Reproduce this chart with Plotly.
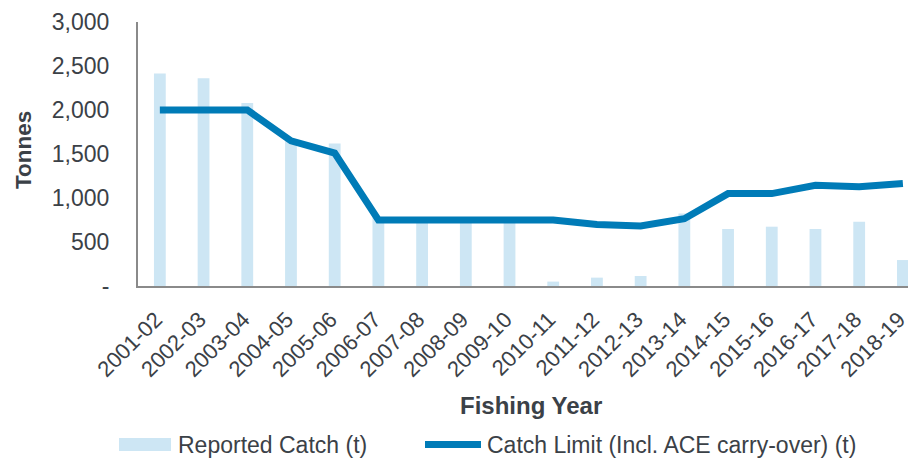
import plotly.graph_objects as go

years = ["2001-02", "2002-03", "2003-04", "2004-05", "2005-06", "2006-07", "2007-08",
         "2008-09", "2009-10", "2010-11", "2011-12", "2012-13", "2013-14", "2014-15",
         "2015-16", "2016-17", "2017-18", "2018-19"]
reported_catch = [2415, 2360, 2080, 1650, 1620, 780, 760, 750, 750, 50, 95, 114, 825,
                  648, 674, 648, 731, 295]
catch_limit = [2000, 2000, 2000, 1650, 1510, 750, 750, 750, 750, 750, 700, 682, 765,
               1050, 1050, 1145, 1128, 1165]
y_ticks = [0, 500, 1000, 1500, 2000, 2500, 3000]
y_tick_text = ["-", "500", "1,000", "1,500", "2,000", "2,500", "3,000"]
bar_name = "Reported Catch (t)"
line_name = "Catch Limit (Incl. ACE carry-over) (t)"

TEXT = "#3b4147"
FONT = "Liberation Sans, Arial, sans-serif"
BAR_C = "#cde6f4"
LINE_C = "#007bb7"

# the page body adds an 8px offset; work in screen pixels and subtract it
OFF = 8
SCREEN_W, SCREEN_H = 916, 459
W, H = SCREEN_W - OFF, SCREEN_H - OFF
PLOT_L, PLOT_R, PLOT_T, PLOT_B = 138, 916, 22, 286  # screen pixels
L, T = PLOT_L - OFF, PLOT_T - OFF
R, B = SCREEN_W - PLOT_R, SCREEN_H - PLOT_B
PW, PH = PLOT_R - PLOT_L, PLOT_B - PLOT_T


def px(x):
    return (x - PLOT_L) / PW


def py(y):
    return (PLOT_B - y) / PH


fig = go.Figure()
fig.add_trace(go.Bar(x=years, y=reported_catch, name=bar_name, showlegend=False,
                     marker=dict(color=BAR_C, line=dict(width=0)), width=0.27))
fig.add_trace(go.Scatter(x=years, y=catch_limit, name=line_name, showlegend=False,
                         mode="lines", line=dict(color=LINE_C, width=7)))

# manual legend (wide swatches as in the reference)
fig.add_shape(type="rect", xref="paper", yref="paper",
              x0=px(119), x1=px(171), y0=py(451), y1=py(438),
              fillcolor=BAR_C, line=dict(width=0))
fig.add_shape(type="line", xref="paper", yref="paper",
              x0=px(425), x1=px(481), y0=py(444.5), y1=py(444.5),
              line=dict(color=LINE_C, width=7))
fig.add_annotation(xref="paper", yref="paper", x=px(176), y=py(445), xanchor="left",
                   yanchor="middle", text=bar_name, showarrow=False,
                   font=dict(size=23, color=TEXT, family=FONT))
fig.add_annotation(xref="paper", yref="paper", x=px(485), y=py(445), xanchor="left",
                   yanchor="middle", text=line_name, showarrow=False,
                   font=dict(size=23, color=TEXT, family=FONT))
# axis titles
fig.add_annotation(xref="paper", yref="paper", x=px(531), y=py(405), xanchor="center",
                   yanchor="middle", text="<b>Fishing Year</b>", showarrow=False,
                   font=dict(size=24, color=TEXT, family=FONT))
fig.add_annotation(xref="paper", yref="paper", x=px(23), y=py(150), xanchor="center",
                   yanchor="middle", text="<b>Tonnes</b>", showarrow=False, textangle=-90,
                   font=dict(size=22.5, color=TEXT, family=FONT))

fig.update_layout(
    width=W, height=H,
    margin=dict(l=L, r=R, t=T, b=B, pad=0),
    paper_bgcolor="white", plot_bgcolor="white",
    font=dict(family=FONT, color=TEXT, size=22),
    showlegend=False,
    xaxis=dict(type="category", range=[-0.5, 17.3], tickangle=-45, automargin=False,
               showline=True, linecolor="#8a8a8a", linewidth=2, ticks="",
               showgrid=False, tickfont=dict(size=22, color=TEXT),
               ticklabelstandoff=10, ticklabelshift=-4),
    yaxis=dict(range=[0, 3000], tickvals=y_ticks, ticktext=y_tick_text, automargin=False,
               showline=True, linecolor="#8a8a8a", linewidth=2, ticks="",
               showgrid=False, zeroline=False, tickfont=dict(size=23, color=TEXT),
               ticklabelstandoff=22),
)

fig.write_html("out.html")
